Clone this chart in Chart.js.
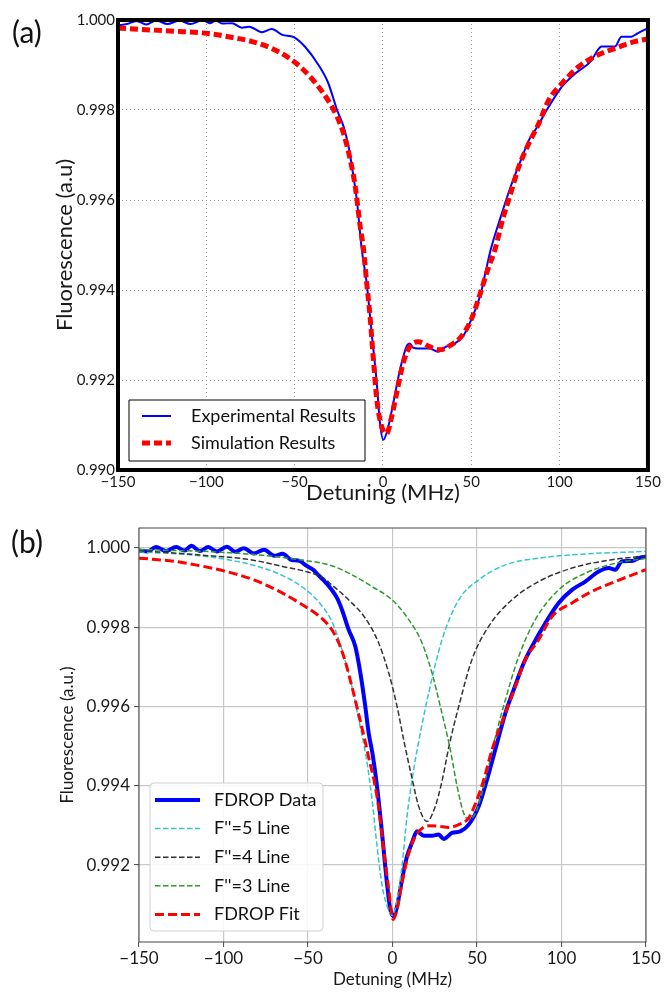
<!DOCTYPE html>
<html>
<head>
<meta charset="utf-8">
<title>FDROP fluorescence vs detuning</title>
<script src="https://cdn.jsdelivr.net/npm/chart.js@4.4.1/dist/chart.umd.min.js"></script>
<style>
    body { margin: 0; background: #fff; }
    #wrap { position: relative; width: 664px; height: 993px; }
    canvas { position: absolute; left: 0; }
    .panel { position: absolute; font: 30px Lato, sans-serif; line-height: 34px; color: #111; }
</style>
</head>
<body>
<div id="wrap">
    <canvas id="chartA" width="664" height="505" style="top:0"></canvas>
    <canvas id="chartB" width="664" height="488" style="top:505px"></canvas>
    <div class="panel" style="left:12px; top:14px">(a)</div>
    <div class="panel" style="left:11px; top:524px">(b)</div>
</div>
<script>
// ===== Data =====

// shared axis ticks (MHz)
const xTicks = [-150, -100, -50, 0, 50, 100, 150];
const yTicksA = [0.990, 0.992, 0.994, 0.996, 0.998, 1.000];
const yTicksB = [0.992, 0.994, 0.996, 0.998, 1.000];

// (a) Experimental Results
const expX = [-150, -145, -139.5, -134, -128.3, -122, -115.2, -109, -102, -98, -94.6, -91, -85.4, -80, -75.8,
    -68.5, -63, -57, -50.5, -44, -36.5, -31, -26, -22.3, -19.5, -16.7, -14.8, -12, -9.2, -6.4, -3.5, -1.7,
    0.2, 3, 5.8, 9.6, 13.3, 15.2, 17, 19.9, 26.4, 31.1, 35.8, 40.4, 45.1, 50.7, 55.4, 58.3, 61, 66.7, 72.3,
    78.8, 82.6, 86.3, 93.8, 101.3, 108.8, 118.2, 121, 123.8, 131.3, 135, 140.6, 144, 148, 150];
const expY = [0.99988, 0.99991, 0.99998, 0.99990, 0.99999, 0.99991, 0.99999, 0.99991, 1.00000, 0.99993, 0.99999,
    0.99992, 0.99993, 0.99983, 0.99985, 0.99973, 0.99980, 0.99967, 0.99962, 0.99940, 0.99900, 0.99860,
    0.99800, 0.99763, 0.99719, 0.99652, 0.99600, 0.99490, 0.99415, 0.99304, 0.99193, 0.99104,
    0.99067, 0.99096, 0.99148, 0.99222, 0.99274, 0.99281, 0.99272, 0.99270, 0.99270, 0.99263, 0.99274,
    0.99281, 0.99296, 0.99341, 0.99393, 0.99444, 0.99490, 0.99563, 0.99630,
    0.99696, 0.99733, 0.99756, 0.99807, 0.99852, 0.99881, 0.99911, 0.99930, 0.99941, 0.99941, 0.99963,
    0.99963, 0.99970, 0.99978, 0.99981];

// (a) Simulation Results
const simX = [-150, -132, -113, -99, -85, -74, -63, -53, -46, -38, -30.5, -26, -22.3, -18.5, -15.7, -12.9, -11,
    -9.2, -7.3, -5.4, -3.5, -0.7, 2.1, 4.9, 7.7, 11.4, 15.2, 19.9, 26.4, 32, 38.6, 44.2, 49.8, 54.5, 59.2,
    63.4, 67.7, 72.3, 76.9, 82.6, 88.2, 93.8, 101.3, 110.7, 120, 131.3, 142.5, 150];
const simY = [0.99982, 0.99978, 0.99974, 0.99970, 0.99961, 0.99952, 0.99937, 0.99915, 0.99893, 0.99859, 0.99818,
    0.99785, 0.99748, 0.99689, 0.99630, 0.99541, 0.99490, 0.99415, 0.99341, 0.99244, 0.99156, 0.99096,
    0.99081, 0.99118, 0.99170, 0.99237, 0.99274, 0.99285, 0.99274, 0.99267, 0.99278, 0.99296, 0.99333,
    0.99385, 0.99444, 0.99490, 0.99556, 0.99615, 0.99674, 0.99726, 0.99770, 0.99822, 0.99859, 0.99896,
    0.99919, 0.99937, 0.99952, 0.99958];

// (b) FDROP Data
const dataX = [-150, -145, -140, -134, -128, -123, -119, -114, -109, -104, -98, -93, -88, -82, -76, -70, -65,
    -60, -55, -51, -47, -44, -41, -37, -33, -29.9, -25.9, -22, -19, -16.1, -14.1, -11.8, -9.2, -6.2, -3.3,
    -1.3, 0.7, 2.7, 5.6, 8.6, 11.5, 14.5, 18.5, 23.4, 27.3, 30.3, 35.2, 40.1, 45.1, 51, 55.9, 60.8, 66.8,
    71.7, 77.6, 82.5, 90.4, 98.3, 106.2, 114.1, 122, 127.9, 131.8, 135.8, 141.7, 145.7, 150];
const dataY = [0.99993, 0.99991, 1.00002, 0.99992, 1.00002, 0.99993, 1.00005, 0.99992, 1.00002, 0.99991, 1.00003,
    0.99990, 0.99999, 0.99986, 0.99995, 0.99980, 0.99985, 0.99970, 0.99967, 0.99955, 0.99945, 0.99932,
    0.99919, 0.99900, 0.99875, 0.99844, 0.99793, 0.99751, 0.99684, 0.99600, 0.99533, 0.99480, 0.99400,
    0.99281, 0.99155, 0.99088, 0.99071, 0.99096, 0.99163, 0.99222, 0.99256, 0.99285, 0.99274, 0.99274,
    0.99277, 0.99266, 0.99281, 0.99285, 0.99302, 0.99348, 0.99415, 0.99491, 0.99583, 0.99642, 0.99709,
    0.99751, 0.99810, 0.99861, 0.99894, 0.99915, 0.99940, 0.99949, 0.99945, 0.99966, 0.99967, 0.99974,
    0.99978];

// (b) F''=5 Line
const f5X = [-150, -114, -84, -65, -53, -43, -36, -30, -24, -20, -15.5, -12.1, -9.2, -6.2, -2.2, 0, 2.7, 5.6,
    8.6, 12.5, 15, 21.4, 29.3, 39.2, 51, 66.8, 86.5, 112, 150];
const f5Y = [0.99990, 0.99980, 0.99958, 0.99930, 0.99900, 0.99860, 0.99815, 0.99745, 0.99650, 0.99567, 0.99470,
    0.99365, 0.99250, 0.99150, 0.99085, 0.99073, 0.99113, 0.99197, 0.99323, 0.99440, 0.99500, 0.99634,
    0.99768, 0.99869, 0.99919, 0.99957, 0.99974, 0.99984, 0.99991];

// (b) F''=4 Line
const f4X = [-150, -114, -84, -65, -51, -41, -36, -26, -16, -8.2, -2.2, 2.7, 7, 11.5, 15.5, 20.4, 25.3, 29.3,
    33.7, 39.2, 47, 56.9, 70.7, 86.5, 106.2, 129.9, 150];
const f4Y = [0.99993, 0.99982, 0.99970, 0.99953, 0.99940, 0.99924, 0.99907, 0.99869, 0.99822, 0.99760, 0.99684,
    0.99600, 0.99508, 0.99420, 0.99348, 0.99310, 0.99348, 0.99412, 0.99505, 0.99600, 0.99718, 0.99802,
    0.99869, 0.99915, 0.99949, 0.99970, 0.99980];

// (b) F''=3 Line
const f3X = [-150, -94, -55, -36, -24, -12, -0.3, 9.6, 17.5, 23.4, 28.3, 34.2, 38.2, 42.1, 45.1, 49.1, 53, 56.9,
    59.5, 66.8, 74.7, 84.5, 98.3, 114.1, 131.8, 150];
const f3Y = [0.99996, 0.99987, 0.99970, 0.99955, 0.99932, 0.99902, 0.99869, 0.99819, 0.99760, 0.99684, 0.99600,
    0.99491, 0.99399, 0.99331, 0.99315, 0.99331, 0.99382, 0.99449, 0.99500, 0.99617, 0.99726, 0.99819,
    0.99894, 0.99936, 0.99961, 0.99974];

// (b) FDROP Fit
const fitX = [-150, -129, -114, -98, -82, -67, -55, -45, -41, -37, -34, -31, -28, -24, -20, -16.1, -13.5,
    -11, -8.2, -5.2, -2.2, 0.3, 2.7, 5.6, 8.6, 12.5, 16.5, 21.4, 27.3, 33.3, 39.2, 45.1, 50, 54, 58.9, 66.8,
    72.7, 78.6, 86.5, 94.4, 106.2, 118, 131.8, 150];
const fitY = [0.99974, 0.99966, 0.99955, 0.99940, 0.99919, 0.99890, 0.99861, 0.99833, 0.99819, 0.99800, 0.99780,
    0.99752, 0.99714, 0.99650, 0.99580, 0.99510, 0.99460, 0.99415, 0.99345, 0.99239, 0.99138, 0.99063,
    0.99088, 0.99155, 0.99214, 0.99264, 0.99289, 0.99299, 0.99298, 0.99295, 0.99302, 0.99319, 0.99365,
    0.99415, 0.99491, 0.99583, 0.99650, 0.99718, 0.99768, 0.99827, 0.99861, 0.99890, 0.99915, 0.99945];

// ===== Helpers =====

Chart.defaults.font.family = 'Lato, sans-serif';
Chart.defaults.color = '#1a1a1a';

function points(xs, ys) {
    return xs.map((x, i) => ({ x: x, y: ys[i] }));
}

function minusSign(v) {
    return String(v).replace('-', '\u2212');
}

// box around the plot area (spines)
const framePlugin = {
    id: 'frame',
    afterDatasetsDraw(chart, args, opts) {
        const { ctx, chartArea: a } = chart;
        ctx.save();
        ctx.strokeStyle = opts.color;
        ctx.lineWidth = opts.width;
        ctx.strokeRect(a.left, a.top, a.right - a.left, a.bottom - a.top);
        ctx.restore();
    }
};

// legend drawn inside the plot, in a box
const boxLegendPlugin = {
    id: 'boxLegend',
    afterDraw(chart, args, o) {
        const ctx = chart.ctx;
        ctx.save();
        ctx.beginPath();
        ctx.roundRect(o.left, o.top, o.width, o.height, o.radius);
        ctx.fillStyle = o.background;
        ctx.fill();
        ctx.lineWidth = o.borderWidth;
        ctx.strokeStyle = o.borderColor;
        ctx.stroke();

        ctx.font = o.font;
        ctx.textBaseline = 'middle';
        chart.data.datasets.forEach((ds, i) => {
            const y = o.firstRow + i * o.rowHeight;
            ctx.beginPath();
            ctx.setLineDash(ds.borderDash || []);
            ctx.lineWidth = ds.borderWidth;
            ctx.strokeStyle = ds.borderColor;
            ctx.moveTo(o.sampleLeft, y);
            ctx.lineTo(o.sampleLeft + o.sampleLength, y);
            ctx.stroke();
            ctx.setLineDash([]);
            ctx.fillStyle = '#111';
            ctx.fillText(ds.label, o.textLeft, y);
        });
        ctx.restore();
    }
};

function lineSet(label, xs, ys, color, width, dash, order) {
    return {
        label: label,
        data: points(xs, ys),
        borderColor: color,
        borderWidth: width,
        borderDash: dash,
        pointRadius: 0,
        fill: false,
        cubicInterpolationMode: 'monotone',
        order: order
    };
}

// ===== Chart (a) =====
new Chart(document.getElementById('chartA'), {
    type: 'line',
    data: {
        datasets: [
            lineSet('Experimental Results', expX, expY, '#0000ff', 2, [], 2),
            lineSet('Simulation Results', simX, simY, '#ff0000', 5, [8, 4], 1)
        ]
    },
    options: {
        responsive: false,
        animation: false,
        layout: { padding: { top: 20, right: 12, left: 0, bottom: 0 } },
        plugins: {
            legend: { display: false },
            tooltip: { enabled: false },
            frame: { color: '#000', width: 4 },
            boxLegend: {
                left: 129, top: 400, width: 236, height: 61, radius: 0,
                background: '#fff', borderColor: '#000', borderWidth: 1,
                firstRow: 416, rowHeight: 27, sampleLeft: 142, sampleLength: 29, textLeft: 191,
                font: '18px Lato, sans-serif'
            }
        },
        scales: {
            x: {
                type: 'linear',
                min: -150,
                max: 150,
                afterFit: s => { s.height = 35; },
                afterBuildTicks: s => { s.ticks = xTicks.map(v => ({ value: v })); },
                ticks: { padding: 3, font: { size: 15 }, callback: v => minusSign(v), maxRotation: 0 },
                grid: { color: '#999', lineWidth: 1, drawTicks: false },
                border: { display: false, dash: [1, 3] },
                title: { display: true, text: 'Detuning (MHz)', font: { size: 22, lineHeight: 1 }, padding: { top: 0, bottom: 1 } }
            },
            y: {
                type: 'linear',
                min: 0.990,
                max: 1.000,
                afterFit: s => { s.width = 118; },
                afterBuildTicks: s => { s.ticks = yTicksA.map(v => ({ value: v })); },
                ticks: { padding: 3, font: { size: 15 }, callback: v => v.toFixed(3) },
                grid: { color: '#999', lineWidth: 1, drawTicks: false },
                border: { display: false, dash: [1, 3] },
                title: { display: true, text: 'Fluorescence (a.u)', font: { size: 22, lineHeight: 1 }, padding: { top: 54, bottom: 0 } }
            }
        }
    },
    plugins: [framePlugin, boxLegendPlugin]
});

// ===== Chart (b) =====
new Chart(document.getElementById('chartB'), {
    type: 'line',
    data: {
        datasets: [
            lineSet('FDROP Data', dataX, dataY, '#0000ff', 4, [], 5),
            lineSet("F''=5 Line", f5X, f5Y, '#33c6cc', 1.5, [5.5, 2.5], 4),
            lineSet("F''=4 Line", f4X, f4Y, '#333333', 1.5, [5.5, 2.5], 3),
            lineSet("F''=3 Line", f3X, f3Y, '#2e9a2e', 1.5, [5.5, 2.5], 2),
            lineSet('FDROP Fit', fitX, fitY, '#ff0000', 3, [9, 4], 1)
        ]
    },
    options: {
        responsive: false,
        animation: false,
        layout: { padding: { top: 23, right: 18, left: 0, bottom: 0 } },
        plugins: {
            legend: { display: false },
            tooltip: { enabled: false },
            frame: { color: '#444', width: 1 },
            boxLegend: {
                left: 150, top: 278, width: 173, height: 148, radius: 4,
                background: 'rgba(255,255,255,0.85)', borderColor: '#d0d0d0', borderWidth: 1,
                firstRow: 295, rowHeight: 28.6, sampleLeft: 155, sampleLength: 45, textLeft: 214,
                font: '18px Lato, sans-serif'
            }
        },
        scales: {
            x: {
                type: 'linear',
                min: -150,
                max: 150,
                afterFit: s => { s.height = 51; },
                afterBuildTicks: s => { s.ticks = xTicks.map(v => ({ value: v })); },
                ticks: { padding: 1, font: { size: 17 }, callback: v => minusSign(v), maxRotation: 0 },
                grid: { color: '#c8c8c8', lineWidth: 1.2, drawTicks: true, tickLength: 5, tickColor: '#444', tickWidth: 1 },
                border: { display: false },
                title: { display: true, text: 'Detuning (MHz)', font: { size: 17 }, padding: { top: 0, bottom: 3 } }
            },
            y: {
                type: 'linear',
                min: 0.99006,
                max: 1.0005,
                afterFit: s => { s.width = 139; },
                afterBuildTicks: s => { s.ticks = yTicksB.map(v => ({ value: v })); },
                ticks: { padding: 4, font: { size: 17 }, callback: v => v.toFixed(3) },
                grid: { color: '#c8c8c8', lineWidth: 1.2, drawTicks: true, tickLength: 5, tickColor: '#444', tickWidth: 1 },
                border: { display: false },
                title: { display: true, text: 'Fluorescence (a.u.)', font: { size: 17 }, padding: { top: 57, bottom: 0 } }
            }
        }
    },
    plugins: [framePlugin, boxLegendPlugin]
});
</script>
</body>
</html>
